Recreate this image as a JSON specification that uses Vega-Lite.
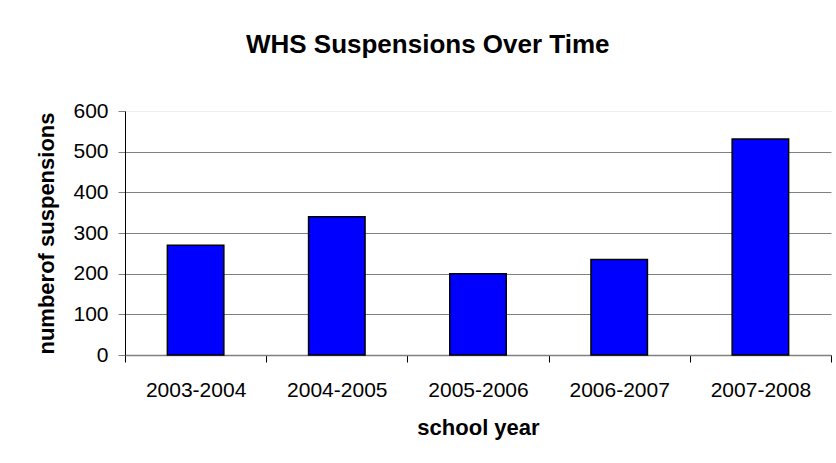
{
  "$schema": "https://vega.github.io/schema/vega-lite/v6.json",
  "width": 706,
  "height": 244,
  "autosize": {"type": "none"},
  "padding": {"left": 125, "top": 111, "right": 5, "bottom": 108},
  "background": "white",
  "config": {
    "font": "Liberation Sans",
    "view": {"stroke": null}
  },
  "title": {
    "text": "WHS Suspensions Over Time",
    "fontSize": 26,
    "fontWeight": "bold",
    "color": "black",
    "anchor": "middle",
    "frame": "bounds",
    "dx": -6,
    "offset": 42
  },
  "data": {
    "values": [
      {"year": "2003-2004", "suspensions": 270},
      {"year": "2004-2005", "suspensions": 340},
      {"year": "2005-2006", "suspensions": 200},
      {"year": "2006-2007", "suspensions": 235},
      {"year": "2007-2008", "suspensions": 531}
    ]
  },
  "mark": {"type": "bar", "fill": "#0000FF", "stroke": "black", "strokeWidth": 1.5, "width": {"band": 0.4}},
  "encoding": {
    "x": {
      "field": "year",
      "type": "nominal",
      "sort": null,
      "scale": {"paddingInner": 0, "paddingOuter": 0},
      "axis": {
        "title": "school year",
        "titleFontSize": 22,
        "titleFontWeight": "bold",
        "titleColor": "black",
        "titlePadding": 17,
        "labelAngle": 0,
        "labelFontSize": 21,
        "labelColor": "black",
        "labelPadding": 17,
        "ticks": true,
        "tickBand": "extent",
        "tickSize": 7,
        "tickWidth": 1,
        "tickColor": "black",
        "domainColor": "#808080",
        "domainWidth": 1.5
      }
    },
    "y": {
      "field": "suspensions",
      "type": "quantitative",
      "scale": {"domain": [0, 600]},
      "axis": {
        "title": "numberof suspensions",
        "titleFontSize": 22,
        "titleFontWeight": "bold",
        "titleColor": "black",
        "titlePadding": 14,
        "values": [0, 100, 200, 300, 400, 500, 600],
        "labelFontSize": 21,
        "labelColor": "black",
        "labelPadding": 10,
        "tickSize": 7,
        "tickColor": "#808080",
        "domainColor": "black",
        "grid": true,
        "gridColor": {"condition": {"test": "datum.value === 600", "value": "#eeeeee"}, "value": "#808080"},
        "gridWidth": 1.2
      }
    }
  }
}
